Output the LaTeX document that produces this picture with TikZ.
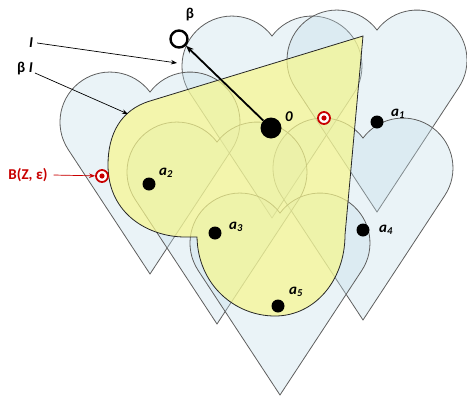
\documentclass[tikz,border=0pt]{standalone}
\usepackage{fontspec}
\setmainfont{Carlito}
\usetikzlibrary{arrows.meta}
\definecolor{heartfill}{RGB}{195,221,232}
\definecolor{heartline}{RGB}{95,95,95}
\definecolor{yel}{RGB}{247,247,140}
\definecolor{tred}{RGB}{200,0,0}
\tikzset{
  heartstyle/.style={fill=heartfill, fill opacity=0.35, draw=heartline, line width=0.8pt},
  heart/.pic={\path[heartstyle] (0,152) -- (-81.8,27.5)
      arc[start angle=146.7, end angle=323.13, radius=50]
      arc[start angle=216.87, end angle=393.3, radius=50] -- cycle;},
  yellowstyle/.style={fill=yel, fill opacity=0.7, draw=black!85, line width=0.8pt},
  dot/.style={circle, fill=black, inner sep=0pt, minimum size=13pt},
  bigdot/.style={circle, fill=black, inner sep=0pt, minimum size=21pt},
  opendot/.style={circle, draw=black, line width=2.4pt, fill=white, inner sep=0pt, minimum size=17pt},
  target/.style={circle, draw=tred, line width=1.8pt, fill=white, inner sep=0pt, minimum size=12pt,
      path picture={\fill[tred] (path picture bounding box.center) circle (2.6pt);}},
  lab/.style={font=\bfseries\itshape\fontsize{15}{15}\selectfont, inner sep=0pt},
  uplab/.style={font=\bfseries\fontsize{15}{15}\selectfont, inner sep=0pt},
  thinarrow/.style={-{Stealth[length=6pt,width=4.5pt]}, line width=0.7pt},
}
\begin{document}
\begin{tikzpicture}[x=1pt, y=-1pt]
\useasboundingbox (0,0) rectangle (467,397);
% hearts
\pic at (272,66) {heart};
\pic at (377,60) {heart};
\pic at (363,168) {heart};
\pic at (150,122) {heart};
\pic at (217,172) {heart};
\pic at (280,243) {heart};
% yellow region beta I
\path[yellowstyle] (363,36) -- (150,101)
  .. controls (120,110) and (108,135) .. (108,165)
  .. controls (108,215) and (150,237) .. (185,237)
  -- (197,237)
  .. controls (198,285) and (235,316) .. (275,316)
  .. controls (315,316) and (345,280) .. (345,235)
  -- cycle;
% points
\node[bigdot] (O) at (271,128) {};
\node[opendot] (beta) at (179,39) {};
\draw[-{Stealth[length=8pt,width=6pt]}, line width=1.8pt] (O) -- (beta);
\node[dot] (a1) at (377,122) {};
\node[dot] (a2) at (149,184) {};
\node[dot] (a3) at (215,233) {};
\node[dot] (a4) at (363,230) {};
\node[dot] (a5) at (278,306) {};
\node[target] (t1) at (324,118) {};
\node[target] (t2) at (102,176) {};
% labels
\node[uplab] (lbeta) at (190,15) {β};
\node[lab] (l0) at (289,117) {0};
\node[lab] (la1) at (398,114) {a\textsubscript{1}};
\node[lab] (la2) at (166,173) {a\textsubscript{2}};
\node[lab] (la3) at (236,227) {a\textsubscript{3}};
\node[lab] (la4) at (386,230) {a\textsubscript{4}};
\node[lab] (la5) at (296,292) {a\textsubscript{5}};
\node[lab] (lI) at (31,43) {I};
\node[uplab] (lbI) at (25,69) {β \textit{I}};
\node[uplab, text=tred] (lB) at (28,175) {B(Z, ε)};
% label arrows
\coordinate (Itip) at (177,63);
\coordinate (bItip) at (128,114);
\draw[thinarrow] ([xshift=4pt]lI.east) -- (Itip);
\draw[thinarrow] ([xshift=2pt,yshift=-4pt]lbI.east) -- (bItip);
\draw[thinarrow, draw=tred, fill=tred] ([xshift=6pt]lB.east) -- (t2);
\end{tikzpicture}
\end{document}
